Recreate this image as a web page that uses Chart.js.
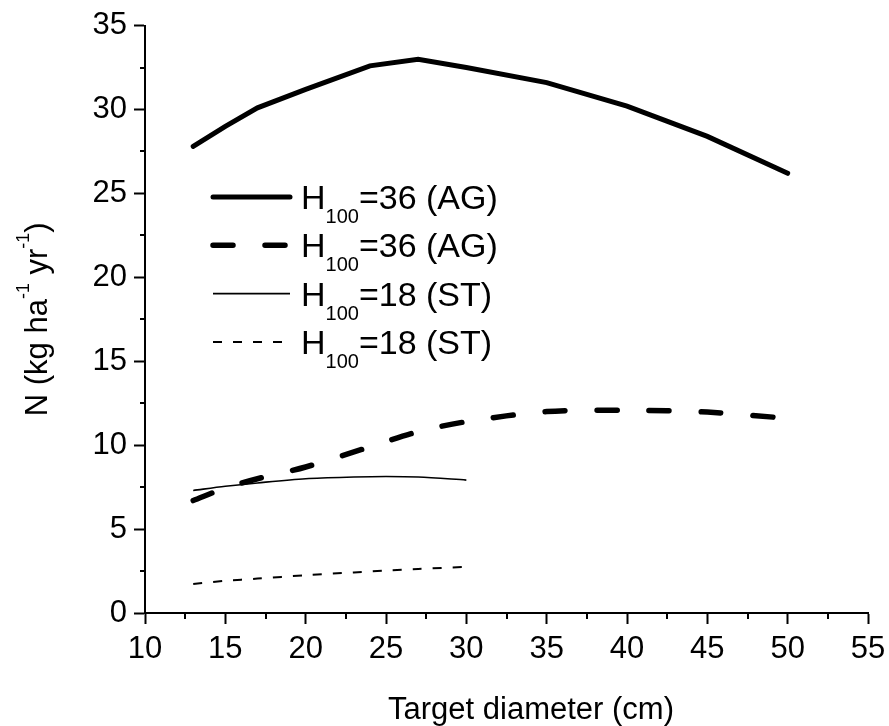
<!DOCTYPE html>
<html>
<head>
<meta charset="utf-8">
<script src="https://cdn.jsdelivr.net/npm/chart.js@4.4.0/dist/chart.umd.min.js"></script>
<style>
    html, body { margin: 0; padding: 0; background: #fff; }
</style>
</head>
<body>
<canvas id="nitrogen-chart" width="889" height="726"></canvas>
<script>
// data
const diamAG = [13, 15, 17, 20, 24, 27, 30, 35, 40, 45, 50];
const nAGSolid = [27.8, 29.0, 30.1, 31.2, 32.6, 33.0, 32.5, 31.6, 30.2, 28.4, 26.2];
const nAGDash = [6.7, 7.45, 8.0, 8.7, 9.9, 10.8, 11.4, 12.0, 12.08, 11.97, 11.6];
const diamST = [13, 15, 17, 20, 23, 25, 27, 30];
const nSTSolid = [7.3, 7.55, 7.75, 8.0, 8.1, 8.13, 8.1, 7.92];
const nSTDash = [1.73, 1.92, 2.05, 2.25, 2.42, 2.53, 2.62, 2.75];

const seriesH = ['36', '36', '18', '18'];
const seriesSite = ['AG', 'AG', 'ST', 'ST'];
const xTitle = 'Target diameter (cm)';
const xMin = 10, xMax = 55, yMin = 0, yMax = 35;

const FONT = '"Liberation Sans", Arial, sans-serif';

function toPoints(xs, ys) {
    return xs.map((x, i) => ({ x: x, y: ys[i] }));
}

// draw text made of pieces (sub / superscripts)
function drawParts(ctx, parts, x, y) {
    let cx = x;
    parts.forEach((p) => {
        ctx.font = p.size + 'px ' + FONT;
        ctx.fillText(p.t, cx, y + (p.dy || 0));
        cx += ctx.measureText(p.t).width;
    });
    return cx - x;
}
function partsWidth(ctx, parts) {
    let w = 0;
    parts.forEach((p) => {
        ctx.font = p.size + 'px ' + FONT;
        w += ctx.measureText(p.t).width;
    });
    return w;
}

const isMajor = (v) => Math.abs(v % 5) < 1e-6;

// short minor ticks, legend and titles
const decorPlugin = {
    id: 'decor',
    afterDraw(chart) {
        const ctx = chart.ctx;
        const xs = chart.scales.x;
        const ys = chart.scales.y;
        const area = chart.chartArea;
        ctx.save();
        ctx.strokeStyle = '#000';
        ctx.lineWidth = 2;
        ctx.beginPath();
        for (let v = xMin; v <= xMax; v += 2.5) {
            if (isMajor(v)) continue;
            const px = Math.round(xs.getPixelForValue(v));
            ctx.moveTo(px, area.bottom);
            ctx.lineTo(px, area.bottom + 6);
        }
        for (let v = yMin; v <= yMax; v += 2.5) {
            if (isMajor(v)) continue;
            const py = Math.round(ys.getPixelForValue(v));
            ctx.moveTo(area.left, py);
            ctx.lineTo(area.left - 5, py);
        }
        ctx.stroke();

        // legend
        ctx.fillStyle = '#000';
        ctx.textBaseline = 'alphabetic';
        ctx.textAlign = 'left';
        chart.data.datasets.forEach((ds, i) => {
            const rowY = 197 + i * 48.3;
            ctx.beginPath();
            ctx.lineWidth = ds.borderWidth;
            ctx.lineCap = ds.borderCapStyle || 'butt';
            ctx.setLineDash(ds.borderDash || []);
            ctx.moveTo(213, rowY);
            ctx.lineTo(290, rowY);
            ctx.stroke();
            ctx.setLineDash([]);
            drawParts(ctx, [
                { t: 'H', size: 34 },
                { t: '100', size: 20, dy: 14 },
                { t: '=' + seriesH[i] + ' (' + seriesSite[i] + ')', size: 34 },
            ], 301, rowY + 12);
        });

        // y title
        const yParts = [
            { t: 'N (kg ha', size: 31 },
            { t: '-1', size: 18, dy: -18 },
            { t: ' yr', size: 31 },
            { t: '-1', size: 18, dy: -18 },
            { t: ')', size: 31 },
        ];
        ctx.save();
        ctx.translate(47, (area.top + area.bottom) / 2);
        ctx.rotate(-Math.PI / 2);
        drawParts(ctx, yParts, -partsWidth(ctx, yParts) / 2, 0);
        ctx.restore();

        // x title
        ctx.font = '31px ' + FONT;
        ctx.textAlign = 'center';
        ctx.fillText(xTitle, 531, 719);
        ctx.restore();
    },
};

const axisCommon = {
    type: 'linear',
    border: { display: true, color: '#000', width: 2 },
    grid: {
        drawOnChartArea: false,
        drawTicks: true,
        tickLength: 11,
        tickWidth: 2,
        tickColor: (c) => (c.tick && isMajor(c.tick.value) ? '#000' : 'rgba(0,0,0,0)'),
    },
};

new Chart(document.getElementById('nitrogen-chart').getContext('2d'), {
    type: 'line',
    data: {
        datasets: [
            {
                data: toPoints(diamAG, nAGSolid),
                borderColor: '#000',
                borderWidth: 5,
                borderCapStyle: 'round',
                tension: 0,
            },
            {
                data: toPoints(diamAG, nAGDash),
                borderColor: '#000',
                borderWidth: 5.5,
                borderDash: [20, 32],
                borderCapStyle: 'round',
                tension: 0.3,
            },
            {
                data: toPoints(diamST, nSTSolid),
                borderColor: '#000',
                borderWidth: 1.6,
                tension: 0.3,
            },
            {
                data: toPoints(diamST, nSTDash),
                borderColor: '#000',
                borderWidth: 2,
                borderDash: [9, 11],
                tension: 0.3,
            },
        ],
    },
    options: {
        responsive: false,
        animation: false,
        events: [],
        layout: { padding: { top: 25, right: 21, left: 0, bottom: 0 } },
        elements: { point: { radius: 0 } },
        plugins: { legend: { display: false }, tooltip: { enabled: false } },
        scales: {
            x: Object.assign({}, axisCommon, {
                min: xMin,
                max: xMax,
                afterFit: (s) => {
                    s.height = 113;
                    s.paddingRight = 0;
                    s.paddingLeft = 0;
                },
                ticks: {
                    stepSize: 2.5,
                    autoSkip: false,
                    maxRotation: 0,
                    padding: 7,
                    color: '#000',
                    font: { family: FONT, size: 31 },
                    callback: (v) => (isMajor(v) ? v : ''),
                },
            }),
            y: Object.assign({}, axisCommon, {
                min: yMin,
                max: yMax,
                afterFit: (s) => { s.width = 145; },
                ticks: {
                    stepSize: 2.5,
                    autoSkip: false,
                    padding: 7,
                    color: '#000',
                    font: { family: FONT, size: 31 },
                    callback: (v) => (isMajor(v) ? v : ''),
                },
            }),
        },
    },
    plugins: [decorPlugin],
});
</script>
</body>
</html>
